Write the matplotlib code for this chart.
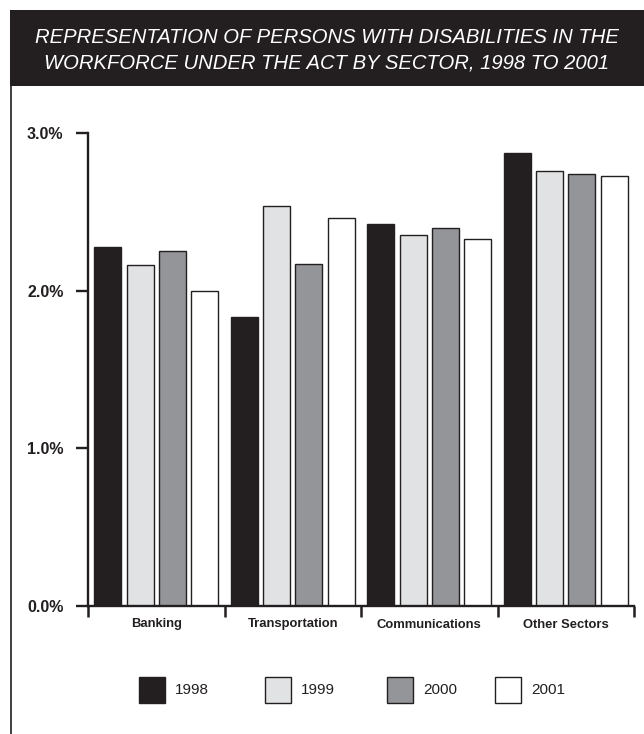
import matplotlib
matplotlib.use("Agg")
import matplotlib.pyplot as plt
from matplotlib.patches import Rectangle
from matplotlib.lines import Line2D

plt.rcParams['font.family'] = ['Liberation Sans', 'DejaVu Sans']

# Data: share of workforce who are persons with disabilities (%)
sectors = ["Banking", "Transportation", "Communications", "Other Sectors"]
years = ["1998", "1999", "2000", "2001"]
values = {
    "1998": [2.28, 1.83, 2.42, 2.87],
    "1999": [2.16, 2.54, 2.35, 2.76],
    "2000": [2.25, 2.17, 2.40, 2.74],
    "2001": [2.00, 2.46, 2.33, 2.73],
}
ytick_vals = [0.0, 1.0, 2.0, 3.0]
ytick_labels = ["0.0%", "1.0%", "2.0%", "3.0%"]
title_lines = ["REPRESENTATION OF PERSONS WITH DISABILITIES IN THE",
               "WORKFORCE UNDER THE ACT BY SECTOR, 1998 TO 2001"]

DARK = "#231f20"
colors = [DARK, "#e1e2e3", "#939598", "#ffffff"]

W, H, DPI = 644, 734, 100
fig = plt.figure(figsize=(W / DPI, H / DPI), dpi=DPI)
fig.patch.set_facecolor("white")

def fx(px):
    return px / W

def fy(py):
    return 1 - py / H

# Title band
fig.add_artist(Rectangle((fx(10), fy(86)), 1 - fx(10), fy(10) - fy(86),
                         transform=fig.transFigure, facecolor=DARK,
                         edgecolor="none", zorder=0))
for line, base in zip(title_lines, [42.7, 68.3]):
    fig.text(fx(327), fy(base), line, ha="center", va="baseline",
             color="white", fontsize=14.6, style="italic")

# Left frame rule
fig.add_artist(Line2D([fx(11), fx(11)], [0, fy(86)], transform=fig.transFigure,
                      color=DARK, lw=1.2))

# Plot area
ax = fig.add_axes([fx(88), fy(606), fx(634) - fx(88), fy(133) - fy(606)])
ax.set_facecolor("none")

bar_w = 0.198
pitch = 0.2366
x = list(range(len(sectors)))
for i, (yr, col) in enumerate(zip(years, colors)):
    off = (i - 1.5) * pitch
    ax.bar([xi + off for xi in x], values[yr], width=bar_w, color=col,
           edgecolor=DARK, linewidth=1.0, zorder=2)

ax.set_xlim(-0.5, 3.5)
ax.set_ylim(0, 3.0)

for s in ["top", "right"]:
    ax.spines[s].set_visible(False)
for s in ["left", "bottom"]:
    ax.spines[s].set_linewidth(1.7)
    ax.spines[s].set_color(DARK)
    ax.spines[s].set_zorder(3)

ax.set_yticks(ytick_vals)
ax.set_yticklabels(ytick_labels, fontsize=11.5, fontweight="bold", color=DARK)
ax.tick_params(axis="y", direction="out", length=8.6, width=1.7, color=DARK, pad=9.0)

# Category separators as downward ticks on the baseline
ax.set_xticks([-0.5, 0.5, 1.5, 2.5, 3.5])
ax.set_xticklabels([])
ax.tick_params(axis="x", direction="out", length=8.0, width=1.8, color=DARK)

# Sector names
for xi, name in zip(x, sectors):
    ax.text(xi, -(627.5 - 606) / (606 - 133), name, transform=ax.get_xaxis_transform(),
            ha="center", va="baseline", fontsize=9.4, fontweight="bold", color=DARK)

# Legend
legend_x = [139, 265, 387, 495]
for px, yr, col in zip(legend_x, years, colors):
    fig.add_artist(Rectangle((fx(px), fy(703)), fx(26), fy(677) - fy(703),
                             transform=fig.transFigure, facecolor=col,
                             edgecolor=DARK, linewidth=1.0))
    fig.text(fx(px + 36), fy(690.5), yr, ha="left", va="center",
             fontsize=11, color=DARK)

fig.savefig("out.png", dpi=DPI)
